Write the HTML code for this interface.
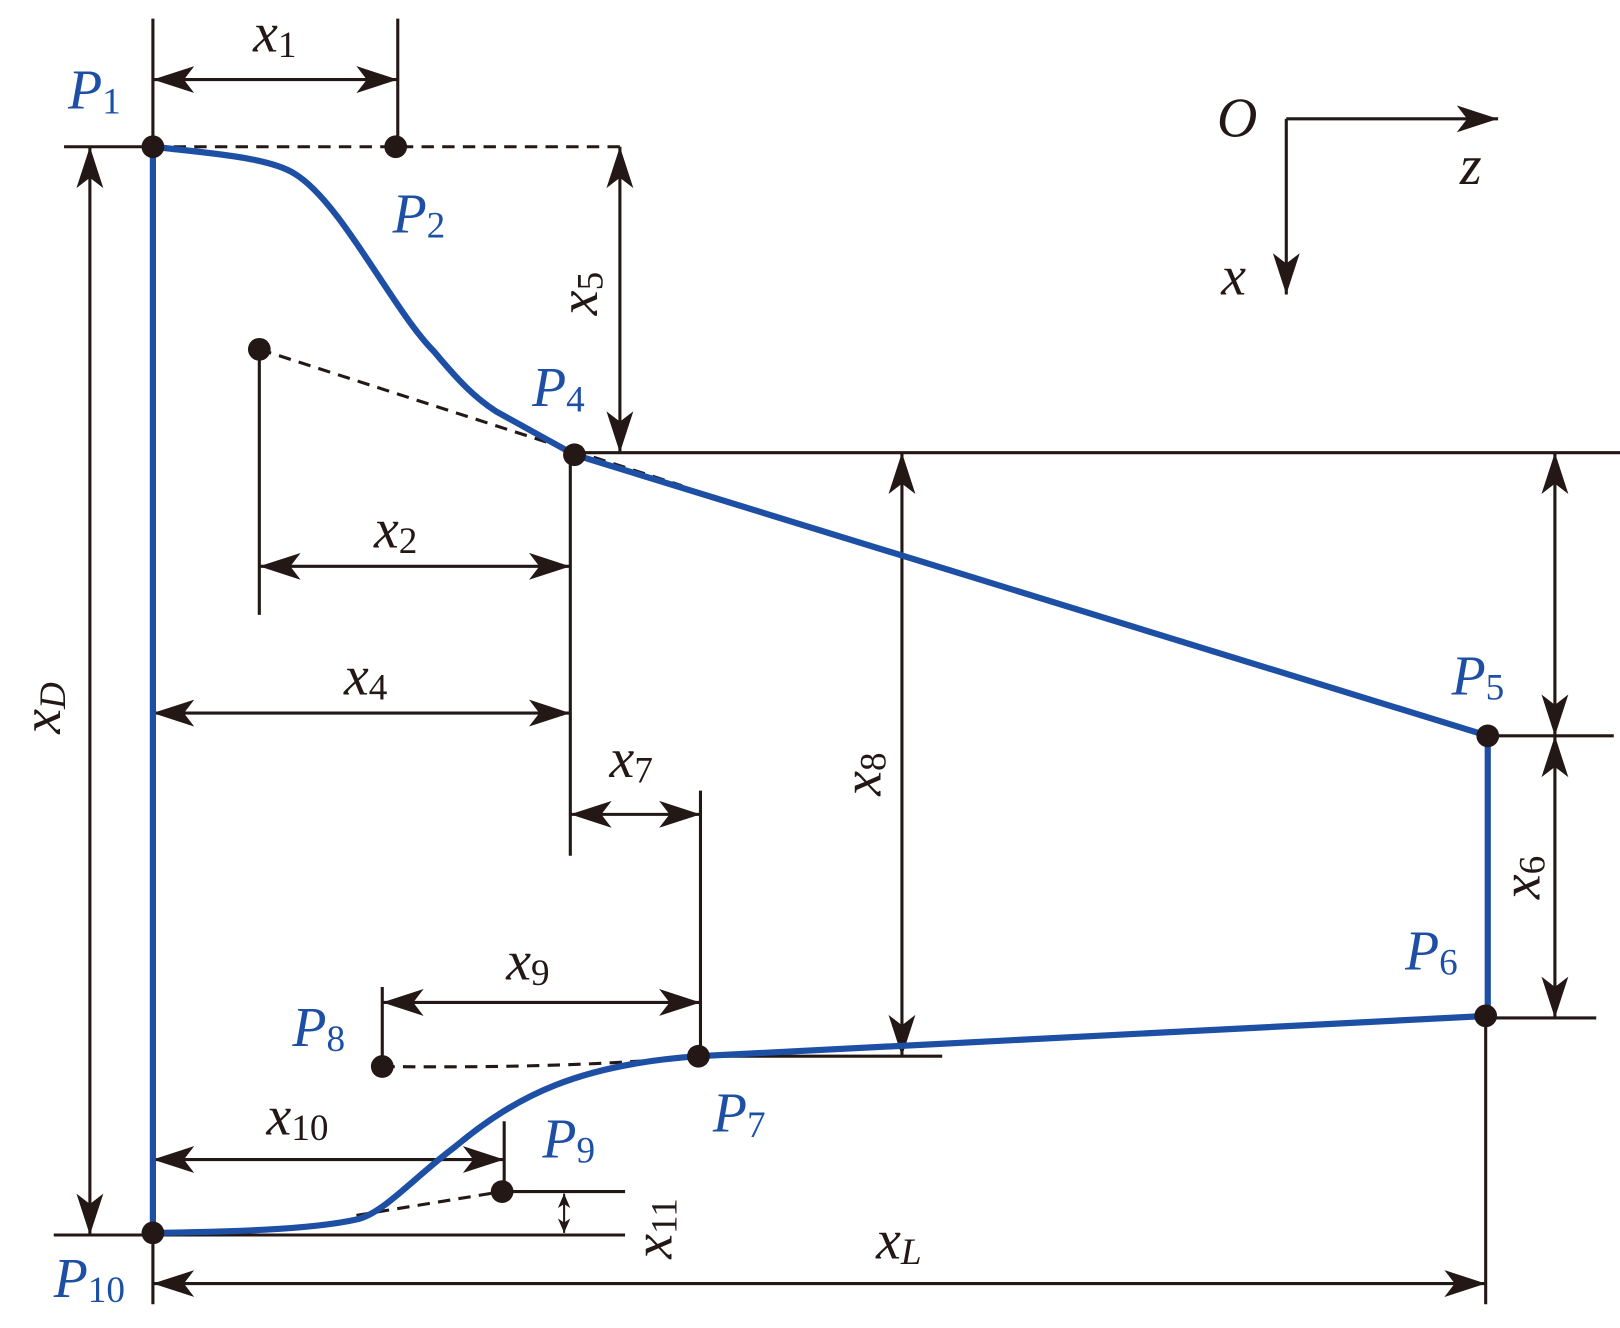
<!DOCTYPE html>
<html><head><meta charset="utf-8"><style>html,body{margin:0;padding:0;background:#fff}svg{display:block}</style></head>
<body>
<svg width="1620" height="1328" viewBox="0 0 1568 1285" preserveAspectRatio="none" xmlns="http://www.w3.org/2000/svg">
<defs>
<marker id="a" markerUnits="userSpaceOnUse" markerWidth="40" markerHeight="30" refX="40" refY="15" orient="auto-start-reverse">
<path d="M0,2 L40,15 L0,28 L10,15 Z" fill="#231815"/></marker>
<marker id="s" markerUnits="userSpaceOnUse" markerWidth="14" markerHeight="14" refX="14" refY="7" orient="auto-start-reverse">
<path d="M0,1 L14,7 L0,13 L4,7 Z" fill="#231815"/></marker>
</defs>
<g stroke="#231815" stroke-width="3" fill="none">
<line x1="62" y1="142" x2="148" y2="142"/>
<line x1="148" y1="142" x2="605" y2="142" stroke-dasharray="12,8"/>
<line x1="148" y1="18" x2="148" y2="142"/>
<line x1="385" y1="18" x2="385" y2="142"/>
<line x1="148" y1="77" x2="385" y2="77" marker-start="url(#a)" marker-end="url(#a)"/>
<line x1="600" y1="142" x2="600" y2="438" marker-start="url(#a)" marker-end="url(#a)"/>
<line x1="556" y1="438" x2="1568" y2="438"/>
<line x1="251" y1="338" x2="660" y2="470" stroke-dasharray="12,8"/>
<line x1="251" y1="338" x2="251" y2="595"/>
<line x1="251" y1="548" x2="552" y2="548" marker-start="url(#a)" marker-end="url(#a)"/>
<line x1="552" y1="440" x2="552" y2="828"/>
<line x1="148" y1="690" x2="552" y2="690" marker-start="url(#a)" marker-end="url(#a)"/>
<line x1="552" y1="788" x2="678" y2="788" marker-start="url(#a)" marker-end="url(#a)"/>
<line x1="678" y1="765" x2="678" y2="1022"/>
<line x1="873" y1="438" x2="873" y2="1022" marker-start="url(#a)" marker-end="url(#a)"/>
<line x1="676" y1="1022" x2="912" y2="1022"/>
<line x1="370" y1="970" x2="678" y2="970" marker-start="url(#a)" marker-end="url(#a)"/>
<line x1="370" y1="955" x2="370" y2="1032"/>
<path d="M370,1032 Q560,1034 676,1022" stroke-dasharray="12,8"/>
<line x1="148" y1="1122" x2="488" y2="1122" marker-start="url(#a)" marker-end="url(#a)"/>
<line x1="488" y1="1085" x2="488" y2="1153"/>
<line x1="345" y1="1176" x2="486" y2="1153" stroke-dasharray="12,8"/>
<line x1="486" y1="1153" x2="605" y2="1153"/>
<line x1="52" y1="1195" x2="605" y2="1195"/>
<line x1="546" y1="1155" x2="546" y2="1193" stroke-width="2" marker-start="url(#s)" marker-end="url(#s)"/>
<line x1="87" y1="142" x2="87" y2="1195" marker-start="url(#a)" marker-end="url(#a)"/>
<line x1="148" y1="1125" x2="148" y2="1262"/>
<line x1="148" y1="1242" x2="1438" y2="1242" marker-start="url(#a)" marker-end="url(#a)"/>
<line x1="1438" y1="983" x2="1438" y2="1262"/>
<line x1="1440" y1="712" x2="1562" y2="712"/>
<line x1="1438" y1="985" x2="1545" y2="985"/>
<line x1="1505" y1="438" x2="1505" y2="712" marker-start="url(#a)" marker-end="url(#a)"/>
<line x1="1505" y1="712" x2="1505" y2="985" marker-start="url(#a)" marker-end="url(#a)"/>
<line x1="1245" y1="115" x2="1450" y2="115" marker-end="url(#a)"/>
<line x1="1245" y1="115" x2="1245" y2="285" marker-end="url(#a)"/>
</g>
<path d="M148,142 C200,148 260,152 285,168 C330,195 380,300 420,340 C445,370 460,385 480,398 L556,440 L1440,712 L1440,983 L676,1022 C560,1030 500,1060 440,1110 C400,1140 370,1175 345,1180 C300,1190 220,1192 148,1193 Z" fill="none" stroke="#1d4fa5" stroke-width="6" stroke-linejoin="round"/>
<g fill="#231815">
<circle cx="148" cy="142" r="11"/><circle cx="383" cy="142" r="11"/><circle cx="251" cy="338" r="11"/>
<circle cx="556" cy="440" r="11"/><circle cx="1440" cy="712" r="11"/><circle cx="1438" cy="983" r="11"/>
<circle cx="676" cy="1022" r="11"/><circle cx="370" cy="1032" r="11"/><circle cx="486" cy="1153" r="11"/>
<circle cx="148" cy="1193" r="11"/>
</g>
<g font-family="'Liberation Serif', serif" font-style="italic" font-size="54" fill="#1d4fa5">
<text x="66" y="105">P<tspan font-size="36" font-style="normal" dy="5">1</tspan></text>
<text x="380" y="225">P<tspan font-size="36" font-style="normal" dy="5">2</tspan></text>
<text x="515" y="393">P<tspan font-size="36" font-style="normal" dy="5">4</tspan></text>
<text x="1405" y="672">P<tspan font-size="36" font-style="normal" dy="5">5</tspan></text>
<text x="1360" y="938">P<tspan font-size="36" font-style="normal" dy="5">6</tspan></text>
<text x="690" y="1095">P<tspan font-size="36" font-style="normal" dy="5">7</tspan></text>
<text x="283" y="1012">P<tspan font-size="36" font-style="normal" dy="5">8</tspan></text>
<text x="525" y="1120">P<tspan font-size="36" font-style="normal" dy="5">9</tspan></text>
<text x="52" y="1255">P<tspan font-size="36" font-style="normal" dy="5">10</tspan></text>
</g>
<g font-family="'Liberation Serif', serif" font-style="italic" font-size="54" fill="#231815">
<text x="245" y="50">x<tspan font-size="36" font-style="normal" dy="5">1</tspan></text>
<text x="362" y="530">x<tspan font-size="36" font-style="normal" dy="5">2</tspan></text>
<text x="333" y="672">x<tspan font-size="36" font-style="normal" dy="5">4</tspan></text>
<text x="590" y="752">x<tspan font-size="36" font-style="normal" dy="5">7</tspan></text>
<text x="490" y="948">x<tspan font-size="36" font-style="normal" dy="5">9</tspan></text>
<text x="258" y="1098">x<tspan font-size="36" font-style="normal" dy="5">10</tspan></text>
<text x="848" y="1218">x<tspan font-size="36" dy="5">L</tspan></text>
<text x="1178" y="132">O</text>
<text x="1413" y="178">z</text>
<text x="1182" y="285">x</text>
<text transform="translate(578,305) rotate(-90)">x<tspan font-size="36" font-style="normal" dy="5">5</tspan></text>
<text transform="translate(58,710) rotate(-90)">x<tspan font-size="36" dy="5">D</tspan></text>
<text transform="translate(852,770) rotate(-90)">x<tspan font-size="36" font-style="normal" dy="5">8</tspan></text>
<text transform="translate(1490,870) rotate(-90)">x<tspan font-size="36" font-style="normal" dy="5">6</tspan></text>
<text transform="translate(650,1218) rotate(-90)">x<tspan font-size="36" font-style="normal" dy="5">11</tspan></text>
</g>
</svg>
</body></html>
